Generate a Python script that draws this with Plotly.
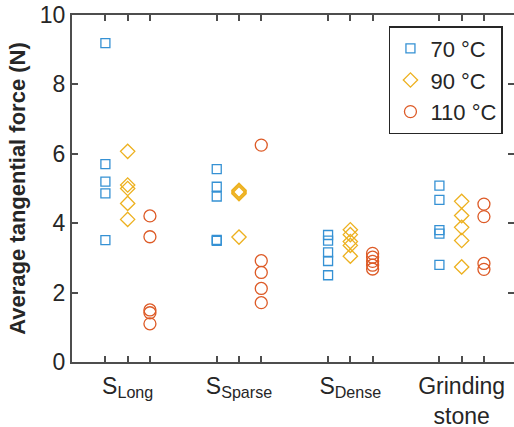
import plotly.graph_objects as go

# ---- data ----
groups = ["S<sub>Long</sub>", "S<sub>Sparse</sub>", "S<sub>Dense</sub>", "Grinding<br>stone"]
series_names = ["70 °C", "90 °C", "110 °C"]

force_70 = [
    [9.19, 5.70, 5.20, 4.86, 3.51],
    [5.56, 5.05, 4.77, 3.52, 3.49],
    [3.66, 3.50, 3.16, 2.91, 2.50],
    [5.08, 4.67, 3.80, 3.70, 2.80],
]
force_90 = [
    [6.07, 5.10, 5.00, 4.57, 4.11],
    [4.95, 4.92, 4.88, 4.85, 3.60],
    [3.81, 3.67, 3.47, 3.36, 3.05],
    [4.63, 4.22, 3.88, 3.50, 2.74],
]
force_110 = [
    [4.21, 3.61, 1.50, 1.42, 1.10],
    [6.25, 2.92, 2.58, 2.12, 1.71],
    [3.13, 3.02, 2.90, 2.79, 2.68],
    [4.55, 4.19, 2.84, 2.67],
]

all_series = [force_70, force_90, force_110]
offsets = [-0.2, 0.0, 0.2]
colors = ["#3591D4", "#EDB120", "#DD5A26"]
symbols = ["square-open", "diamond-open", "circle-open"]
sizes = [9, 11, 12]

FONT = "Liberation Sans, Arial, sans-serif"

fig = go.Figure()
for name, data, off, col, sym, sz in zip(series_names, all_series, offsets, colors, symbols, sizes):
    xs, ys = [], []
    for gi, vals in enumerate(data):
        for v in vals:
            xs.append(gi + 1 + off)
            ys.append(v)
    fig.add_trace(go.Scatter(
        x=xs, y=ys, mode="markers", name=name,
        marker=dict(symbol=sym, size=sz, color=col, line=dict(color=col, width=1.3)),
    ))

tickvals, ticktext = [], []
for gi, g in enumerate(groups):
    for off in offsets:
        tickvals.append(gi + 1 + off)
        ticktext.append(g if off == 0 else " ")

axis_color = "#4d4d4d"
fig.update_layout(
    width=514, height=427,
    margin=dict(l=72, r=0, t=15, b=65),
    paper_bgcolor="white", plot_bgcolor="white",
    font=dict(family=FONT, size=23, color="#262626"),
    showlegend=True,
    legend=dict(
        x=0.975, y=0.968, xanchor="right", yanchor="top",
        bgcolor="white", bordercolor="#262626", borderwidth=1.5,
        font=dict(family=FONT, size=22, color="#262626"),
        tracegroupgap=0, itemsizing="trace",
    ),
    xaxis=dict(
        range=[0.5, 4.47], tickmode="array", tickvals=tickvals, ticktext=ticktext,
        tickangle=0,
        ticks="inside", ticklen=6, tickwidth=1.5, tickcolor=axis_color,
        showline=True, linecolor=axis_color, linewidth=2, mirror="ticks",
        showgrid=False, zeroline=False, ticklabelstandoff=2, automargin=False,
        tickfont=dict(family=FONT, size=23, color="#262626"),
    ),
    yaxis=dict(
        range=[0, 10], tickmode="array", tickvals=[0, 2, 4, 6, 8, 10],
        ticks="inside", ticklen=6, tickwidth=1.5, tickcolor=axis_color,
        showline=True, linecolor=axis_color, linewidth=2, mirror="ticks",
        showgrid=False, zeroline=False, automargin=False,
        tickfont=dict(family=FONT, size=23, color="#262626"),
        title=dict(text="<b>Average tangential force (N)</b>",
                   font=dict(family=FONT, size=22, color="#262626"),
                   standoff=8),
    ),
)

fig.write_html("out.html")
